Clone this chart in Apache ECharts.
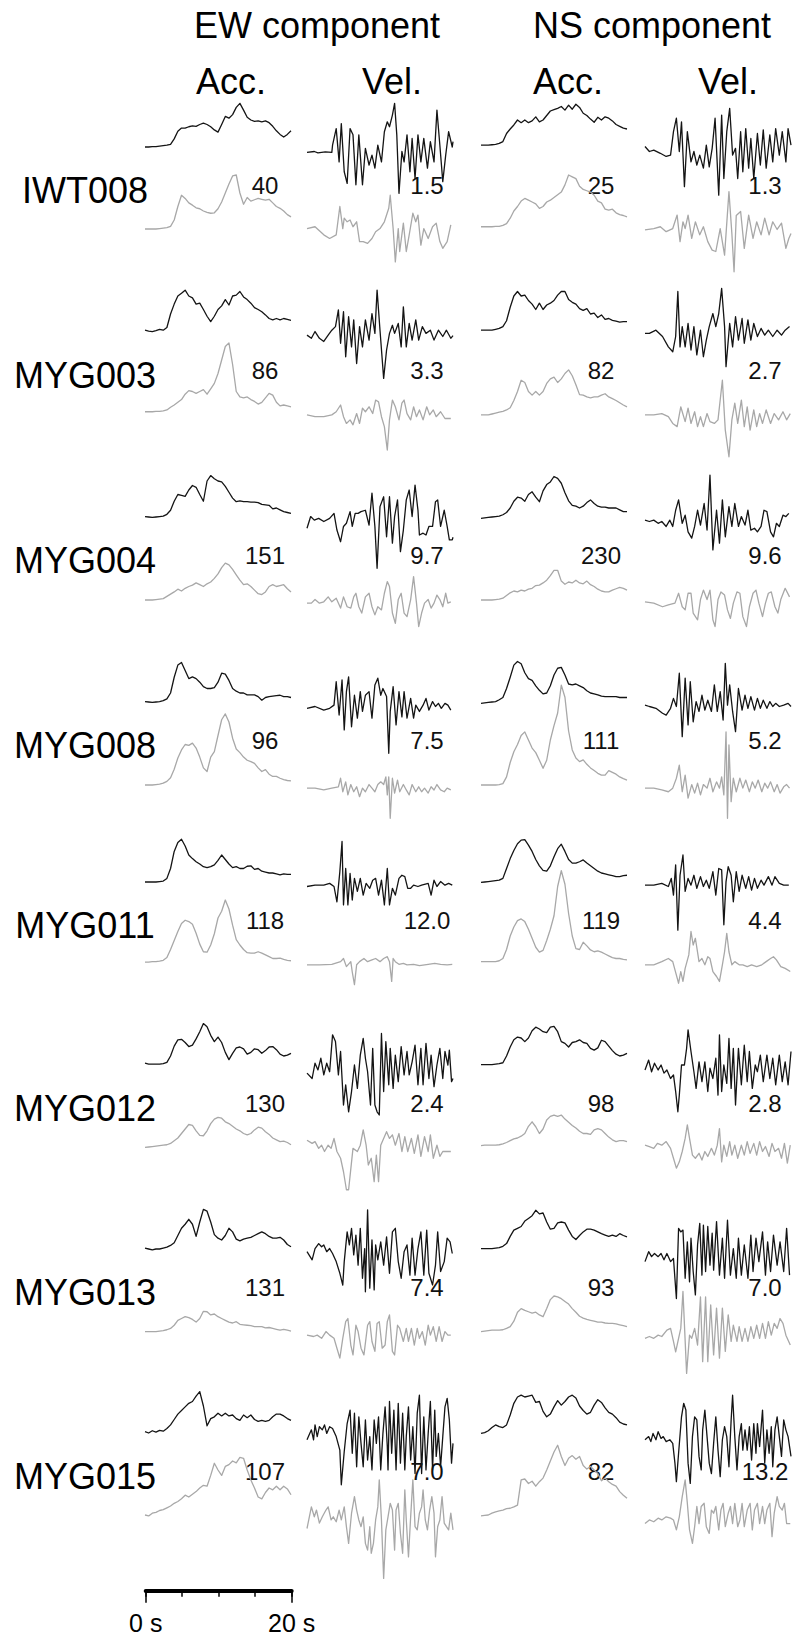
<!DOCTYPE html>
<html>
<head>
<meta charset="utf-8">
<script src="https://cdn.jsdelivr.net/npm/echarts@6.0.0/dist/echarts.min.js"></script>
<style>
  html, body { margin: 0; padding: 0; background: #ffffff; }
  #chart { width: 795px; height: 1638px; }
</style>
</head>
<body>
<div id="chart"></div>
<script>
// ---------------------------------------------------------------------------
// Observed (black) and synthetic (grey) waveforms, 8 stations x 4 panels.
// Acceleration envelopes are sampled every 0.5 s (0..20 s).
// Velocity traces are [time (s), amplitude] pairs.
// Amplitudes are in percent of a common reference scale per panel.
// ---------------------------------------------------------------------------
const stations = ['IWT008', 'MYG003', 'MYG004', 'MYG008', 'MYG011', 'MYG012', 'MYG013', 'MYG015'];
const componentTitles = ['EW component', 'NS component'];
const columnTitles = ['Acc.', 'Vel.', 'Acc.', 'Vel.'];
const columnKeys = ['accEW', 'velEW', 'accNS', 'velNS'];
// peak observed amplitude of each panel (Acc. cm/s^2, Vel. cm/s)
const peakValues = [
  [40, 1.5, 25, 1.3],
  [86, 3.3, 82, 2.7],
  [151, 9.7, 230, 9.6],
  [96, 7.5, 111, 5.2],
  [118, 12.0, 119, 4.4],
  [130, 2.4, 98, 2.8],
  [131, 7.4, 93, 7.0],
  [107, 7.0, 82, 13.2]
];
const scaleBarTicks = [0, 20];
const ACC_STEP = 0.5;

// ---- IWT008 ----
const IWT008_accEW_obs = [0,0,1,1,2,3,4,6,18,35,42,42,45,47,46,50,53,50,45,38,33,50,68,64,72,88,97,82,66,60,57,58,56,58,54,46,36,28,22,28,36];
const IWT008_accEW_syn = [0,0,0,0,1,2,3,6,20,50,75,68,58,53,47,45,40,37,35,36,45,60,80,100,118,120,80,55,70,62,65,68,66,64,66,58,50,46,40,32,27];
const IWT008_velEW_obs = [[0,-12],[1,-10],[1.5,-13],[2.5,-11],[3.4,-12],[3.5,4],[4.0,41],[4.4,-33],[4.7,52],[5.1,-55],[5.5,-81],[5.9,41],[6.3,27],[6.7,-84],[7.1,27],[7.6,-84],[8.0,-3],[8.5,-40],[8.9,-18],[9.3,-47],[9.7,4],[10.2,-33],[10.6,34],[11.0,56],[11.3,45],[11.7,71],[12.0,97],[12.3,27],[12.6,-103],[13.0,-10],[13.3,-33],[13.7,27],[14.1,-55],[14.4,19],[14.8,-70],[15.2,27],[15.6,-33],[16.0,19],[16.5,-47],[16.9,12],[17.4,-33],[17.8,82],[18.2,4],[18.6,-77],[19.0,-18],[19.4,34],[19.9,0],[20,12]];
const IWT008_velEW_syn = [[0,1],[1.1,5],[2.3,-13],[3.1,-21],[4.0,-13],[4.5,50],[4.9,1],[5.1,24],[5.5,16],[5.9,20],[6.3,5],[6.8,16],[7.2,-28],[7.7,-28],[8.3,-32],[8.9,-21],[9.4,-6],[10.0,1],[10.6,16],[11.2,46],[11.4,75],[11.8,1],[12.1,-73],[12.5,1],[12.7,-50],[13.2,13],[13.6,-50],[14.0,-13],[14.5,35],[14.9,16],[15.2,31],[15.6,-36],[16.0,1],[16.6,-21],[17.2,5],[17.7,13],[18.2,-28],[18.6,-43],[19.2,-28],[19.7,9]];
const IWT008_accNS_obs = [4,4,4,5,6,8,12,30,40,49,60,54,60,54,58,67,56,60,70,80,83,86,90,82,93,84,95,88,75,70,62,55,66,60,67,64,58,50,46,42,40];
const IWT008_accNS_syn = [5,5,5,5,6,6,8,12,24,40,50,62,68,64,60,56,46,50,60,64,70,76,82,98,120,116,112,95,88,85,82,75,62,58,44,42,44,36,32,30,27];
const IWT008_velNS_obs = [[0,1],[0.6,-10],[1.2,-7],[2.1,-14],[2.9,-21],[3.5,-18],[3.9,34],[4.3,64],[4.7,-10],[5.0,56],[5.4,-88],[5.8,34],[6.3,-33],[6.7,-10],[7.1,-40],[7.5,-18],[8.0,-47],[8.4,4],[8.8,-44],[9.2,-3],[9.6,64],[10.1,-107],[10.5,71],[10.8,-70],[11.2,34],[11.6,86],[12.0,-18],[12.4,-3],[12.7,-70],[13.1,34],[13.4,-55],[13.8,41],[14.2,-47],[14.5,19],[14.9,-70],[15.4,30],[15.8,-40],[16.2,38],[16.6,-47],[17.1,27],[17.5,-33],[17.9,41],[18.4,-18],[18.8,34],[19.3,-33],[19.6,41],[20.0,4]];
const IWT008_velNS_syn = [[0,-2],[1.2,1],[2.1,5],[2.9,-6],[3.8,1],[4.4,31],[4.8,-28],[5.2,16],[5.5,1],[5.9,31],[6.4,-21],[6.9,16],[7.5,-13],[8.0,5],[8.6,-28],[9.2,-47],[9.7,-50],[10.3,1],[10.9,-58],[11.5,83],[11.9,-10],[12.2,-95],[12.5,30],[13.1,39],[13.6,-43],[14.2,31],[14.8,-21],[15.3,16],[15.9,-13],[16.4,24],[17.0,-13],[17.5,16],[18.1,-1],[18.7,13],[19.3,-43],[19.7,-21],[20,-10]];

// ---- MYG003 ----
const MYG003_accEW_obs = [4,2,1,3,6,4,10,40,62,80,86,93,80,76,62,64,50,35,23,35,50,58,72,60,80,82,90,78,72,64,54,50,45,38,30,27,30,27,30,28,26];
const MYG003_accEW_syn = [5,5,5,6,6,7,9,15,20,26,32,44,52,50,46,50,54,44,56,68,90,120,150,158,110,50,38,36,38,32,28,22,26,36,46,42,26,18,20,18,16];
const MYG003_velEW_obs = [[0,-7],[0.6,-14],[1.1,1],[1.7,-14],[2.3,-21],[2.9,-7],[3.4,4],[3.9,12],[4.3,49],[4.6,-25],[5.0,45],[5.3,-55],[5.7,34],[6.1,-33],[6.4,27],[6.8,-70],[7.2,12],[7.6,-33],[8.0,27],[8.5,-18],[8.9,41],[9.3,-3],[9.6,93],[10.0,4],[10.5,-103],[10.9,-40],[11.3,-3],[11.7,15],[12.0,-3],[12.5,19],[12.9,-33],[13.2,56],[13.6,-33],[14.0,19],[14.4,-18],[14.9,27],[15.3,-18],[15.8,12],[16.3,-3],[16.9,4],[17.4,-18],[18.0,4],[18.6,-10],[19.1,4],[19.7,-14],[20,-8]];
const MYG003_velEW_syn = [[0,-2],[1.1,-6],[2.3,-6],[3.4,-2],[4.0,5],[4.6,20],[5.0,-6],[5.4,-21],[5.9,-13],[6.3,-24],[6.8,1],[7.2,-21],[7.6,13],[8.0,5],[8.5,16],[9.0,1],[9.4,31],[9.8,27],[10.2,-6],[10.6,-28],[11.0,-80],[11.3,-13],[11.7,31],[12.1,16],[12.6,-13],[13.0,24],[13.3,31],[13.7,1],[14.2,-13],[14.6,16],[15.0,-6],[15.4,9],[15.9,-13],[16.4,16],[16.8,-2],[17.3,9],[17.7,-6],[18.3,5],[18.9,-10],[19.7,-10]];
const MYG003_accNS_obs = [4,4,4,4,6,8,12,25,55,80,90,80,82,70,62,50,64,50,60,64,70,82,90,90,72,66,62,52,48,52,40,42,32,38,28,30,26,24,22,23,23];
const MYG003_accNS_syn = [-2,-2,-2,0,2,4,6,9,14,30,50,75,70,50,42,50,42,50,68,78,82,70,78,90,98,85,65,43,42,38,36,38,38,42,45,38,34,30,25,20,16];
const MYG003_velNS_obs = [[0,-3],[0.6,-3],[1.5,4],[2.4,-10],[3.2,-33],[3.8,-44],[4.2,-10],[4.5,90],[4.8,-33],[5.1,12],[5.5,-33],[5.9,19],[6.3,-40],[6.7,12],[7.1,-51],[7.6,4],[8.0,-55],[8.4,-18],[8.8,12],[9.3,41],[9.7,12],[10.1,41],[10.5,97],[10.9,12],[11.1,-77],[11.6,19],[12.0,-33],[12.4,34],[12.8,-18],[13.3,30],[13.6,-25],[14.1,27],[14.5,-18],[14.9,19],[15.4,-10],[15.9,8],[16.4,-7],[16.9,4],[17.5,-10],[18.1,4],[18.7,-7],[19.2,4],[19.8,12]];
const MYG003_velNS_syn = [[0,-2],[1.2,-2],[2.3,1],[3.2,-6],[3.8,-21],[4.4,-28],[4.9,16],[5.5,-17],[5.9,13],[6.3,-21],[6.8,5],[7.2,-28],[7.6,-6],[8.0,-28],[8.5,1],[8.9,-17],[9.5,-21],[10.0,-13],[10.6,75],[11.0,-36],[11.5,-95],[11.9,-13],[12.3,24],[12.7,-21],[13.2,31],[13.6,-28],[14.0,16],[14.4,-36],[14.9,9],[15.3,-28],[15.7,1],[16.1,-21],[16.6,9],[17.2,-21],[17.7,1],[18.3,-13],[18.9,5],[19.4,-13],[19.9,1]];

// ---- MYG004 ----
const MYG004_accEW_obs = [1,0,-1,0,1,2,6,15,35,50,48,46,60,70,66,50,35,80,92,85,80,78,68,55,42,34,36,34,34,33,33,32,28,27,26,18,20,16,12,10,8];
const MYG004_accEW_syn = [0,0,0,1,2,3,8,13,18,24,20,26,30,33,38,34,30,36,40,48,58,72,82,78,68,56,44,34,36,30,22,14,12,18,30,34,30,32,34,25,18];
const MYG004_velEW_obs = [[0,-25],[0.5,1],[1.0,-7],[1.6,-3],[2.3,-10],[3.1,-3],[3.7,8],[4.1,-29],[4.6,-55],[5.0,-21],[5.4,-14],[5.9,12],[6.2,-21],[6.6,8],[7.0,8],[7.4,12],[8.0,15],[8.5,-18],[8.9,53],[9.3,-21],[9.6,-114],[10.0,23],[10.5,45],[10.9,-44],[11.3,45],[11.7,-58],[12.0,1],[12.4,38],[12.8,-77],[13.2,-29],[13.6,38],[14.0,60],[14.4,1],[14.8,71],[15.2,15],[15.4,-40],[15.9,-36],[16.3,-40],[16.7,-21],[17.2,-21],[17.6,34],[17.9,38],[18.3,-21],[18.8,15],[19.2,-21],[19.5,-51],[19.9,-51],[20,-45]];
const MYG004_velEW_syn = [[0,-7],[0.6,-7],[1.1,1],[1.7,-7],[2.3,-4],[2.9,7],[3.4,-4],[4.0,4],[4.6,-18],[5.0,7],[5.5,-15],[6.0,-18],[6.4,7],[6.7,15],[7.1,-15],[7.5,-29],[8.0,7],[8.5,15],[8.9,-15],[9.3,-33],[9.7,-15],[10.2,-22],[10.6,15],[11.0,41],[11.3,30],[11.7,-29],[12.1,-52],[12.5,1],[12.9,15],[13.3,-29],[13.7,-37],[14.2,1],[14.6,52],[15.0,-7],[15.3,-59],[15.7,-29],[16.1,-7],[16.6,1],[17.0,-18],[17.4,-7],[17.8,11],[18.2,1],[18.6,-15],[19.0,15],[19.3,-7],[19.7,-4]];
const MYG004_accNS_obs = [-3,-2,-1,0,1,2,5,10,20,35,44,42,35,50,56,44,34,58,72,78,90,86,75,54,36,26,24,20,24,32,38,30,24,22,22,20,20,20,16,12,12];
const MYG004_accNS_syn = [0,0,0,0,1,2,4,10,16,20,18,22,20,24,26,32,33,38,44,54,66,66,42,35,40,38,44,38,36,42,34,30,24,20,18,18,22,25,28,26,22];
const MYG004_velNS_obs = [[0,-7],[0.6,-10],[1.2,-7],[1.8,-14],[2.3,-10],[2.9,-21],[3.4,-7],[3.8,-21],[4.2,15],[4.6,38],[5.1,-14],[5.5,4],[5.9,-33],[6.4,-47],[6.8,-21],[7.2,15],[7.6,-18],[8.1,30],[8.5,-29],[8.9,93],[9.3,-73],[9.8,15],[10.2,-58],[10.6,38],[11.0,-44],[11.5,23],[11.9,-21],[12.3,30],[12.8,-21],[13.2,1],[13.7,-18],[14.1,15],[14.5,-29],[15.0,-25],[15.4,-33],[15.9,-21],[16.3,15],[16.7,12],[17.2,-33],[17.6,-44],[18.0,-14],[18.4,-21],[18.9,4],[19.3,1],[19.7,8]];
const MYG004_velNS_syn = [[0,-4],[1.2,-7],[2.4,-15],[3.2,-11],[4.1,-7],[4.6,15],[5.1,-15],[5.5,-22],[5.9,15],[6.3,15],[6.6,-29],[7.2,-44],[7.6,1],[8.0,22],[8.5,1],[8.9,22],[9.3,-44],[9.6,-59],[10.0,1],[10.4,18],[10.9,11],[11.3,-22],[11.7,-41],[12.1,-7],[12.6,18],[13.0,15],[13.4,-37],[13.9,-59],[14.3,-15],[14.8,15],[15.2,22],[15.6,-7],[16.1,-37],[16.5,-7],[16.9,15],[17.3,18],[17.8,-15],[18.2,-29],[18.6,1],[19.2,26],[19.8,7]];

// ---- MYG008 ----
const MYG008_accEW_obs = [1,0,-1,0,1,3,7,20,55,82,88,70,52,56,52,44,34,30,30,32,44,64,62,48,30,24,20,20,16,16,16,12,4,10,12,13,14,15,12,12,10];
const MYG008_accEW_syn = [0,0,0,1,2,4,8,16,35,60,78,90,88,93,82,62,38,30,62,74,110,145,158,140,104,80,72,62,55,52,48,38,30,34,24,19,19,15,12,10,9];
const MYG008_velEW_obs = [[0,-14],[1.1,-10],[2.3,-18],[3.1,-14],[3.7,-7],[4.0,45],[4.4,-29],[4.8,49],[5.1,-62],[5.4,23],[5.7,56],[6.1,-55],[6.5,15],[6.9,-36],[7.3,23],[7.6,-21],[8.0,15],[8.5,23],[8.9,-36],[9.3,38],[9.7,53],[10.1,15],[10.4,30],[10.9,12],[11.2,-114],[11.4,-21],[11.8,34],[12.2,-51],[12.6,23],[13.0,-33],[13.3,23],[13.7,-36],[14.2,8],[14.6,-36],[14.9,-7],[15.4,-21],[15.9,-7],[16.3,8],[16.7,-18],[17.2,1],[17.6,-10],[18.0,-3],[18.4,-14],[18.9,-3],[19.3,-7],[19.7,-18]];
const MYG008_velEW_syn = [[0,-7],[1.1,-7],[2.3,-11],[3.4,-7],[4.3,-4],[4.6,15],[4.9,-15],[5.3,7],[5.6,-22],[6.0,1],[6.4,-15],[6.8,-4],[7.2,-26],[7.6,-7],[8.0,-15],[8.5,1],[8.9,-7],[9.3,-15],[9.7,1],[10.1,7],[10.5,1],[10.8,18],[11.0,-22],[11.2,18],[11.4,-74],[11.7,15],[12.0,-18],[12.4,11],[12.7,-15],[13.2,1],[13.6,-11],[14.0,-22],[14.4,1],[14.9,-15],[15.3,-4],[15.7,-15],[16.1,-7],[16.6,-18],[17.0,-4],[17.4,-11],[17.8,1],[18.3,-11],[18.8,-15],[19.2,-7],[19.7,-11]];
const MYG008_accNS_obs = [-3,-2,-1,0,1,5,10,30,55,82,90,85,65,52,48,36,26,18,20,36,60,75,77,60,40,38,40,36,32,25,20,18,16,13,12,12,12,12,10,10,10];
const MYG008_accNS_syn = [0,0,0,0,0,1,3,18,50,74,90,110,118,100,82,72,55,37,55,100,132,160,222,195,120,78,60,52,56,46,38,32,26,22,22,32,28,24,18,14,11];
const MYG008_velNS_obs = [[0,-7],[0.6,-10],[1.5,-14],[2.4,-25],[2.9,-29],[3.5,-14],[3.9,8],[4.3,-10],[4.7,64],[5.1,-77],[5.5,53],[5.9,-51],[6.2,45],[6.6,-44],[7.0,1],[7.4,-21],[7.8,15],[8.2,-18],[8.6,4],[9.1,-21],[9.5,38],[9.9,-21],[10.3,23],[10.7,-40],[11.0,86],[11.3,-7],[11.6,38],[12.0,-21],[12.4,-66],[12.8,30],[13.3,-18],[13.7,15],[14.1,-14],[14.5,12],[15.0,-18],[15.4,8],[15.8,-14],[16.2,4],[16.7,-14],[17.1,1],[17.5,-10],[17.9,-3],[18.4,-10],[19.0,-7],[19.6,-3],[20,-10]];
const MYG008_velNS_syn = [[0,-7],[1.2,-7],[2.3,-11],[3.2,-15],[3.8,-7],[4.3,15],[4.7,44],[5.1,-15],[5.5,22],[5.9,-29],[6.4,1],[6.8,-18],[7.2,4],[7.6,-22],[8.0,1],[8.5,-7],[8.9,15],[9.3,-15],[9.8,7],[10.2,-7],[10.5,18],[10.8,-22],[11.1,118],[11.3,-74],[11.5,89],[11.8,-37],[12.1,15],[12.5,-15],[13.0,15],[13.4,-7],[13.8,11],[14.3,-15],[14.7,7],[15.1,-7],[15.5,11],[16.0,-15],[16.4,4],[16.8,-7],[17.2,7],[17.7,-15],[18.1,1],[18.5,-18],[19.0,-4],[19.4,1],[19.8,-7]];

// ---- MYG011 ----
const MYG011_accEW_obs = [0,0,0,0,1,2,8,30,68,88,95,80,60,52,45,40,34,32,34,38,48,60,50,40,32,34,30,30,35,36,28,30,24,22,20,20,18,16,18,17,17];
const MYG011_accEW_syn = [2,2,3,3,4,6,12,30,50,70,88,95,92,86,66,42,25,24,40,65,100,115,140,120,84,52,40,30,23,22,22,25,22,18,14,10,10,11,8,6,5];
const MYG011_velEW_obs = [[0,-10],[1.1,-7],[2.3,-7],[3.1,-3],[3.7,-10],[4.1,-44],[4.5,23],[4.8,90],[5.0,-51],[5.3,30],[5.6,-51],[5.9,19],[6.2,-40],[6.5,8],[6.9,-21],[7.3,8],[7.7,-29],[8.1,-3],[8.6,-14],[9.0,4],[9.4,8],[9.8,-29],[10.2,4],[10.6,-51],[11.0,30],[11.3,-51],[11.7,-14],[12.1,-29],[12.6,8],[13.0,15],[13.4,12],[13.8,-14],[14.2,-14],[14.6,-7],[15.2,-10],[15.7,-7],[16.6,-3],[17.0,-29],[17.4,4],[17.8,-10],[18.3,1],[18.9,-7],[19.4,-3],[19.9,-7]];
const MYG011_velEW_syn = [[0,-4],[1.7,-4],[3.4,-3],[4.6,3],[5.0,10],[5.4,-8],[6.0,3],[6.2,-20],[6.5,-48],[6.8,-4],[7.2,3],[7.8,10],[8.3,3],[8.9,7],[9.4,10],[10.0,3],[10.5,10],[11.0,14],[11.3,3],[11.6,-41],[11.8,10],[12.1,3],[12.6,-3],[13.2,-1],[13.7,-4],[14.6,-3],[15.4,-6],[16.6,-3],[17.5,-1],[18.3,-3],[19.2,-4],[19.9,-3]];
const MYG011_accNS_obs = [-1,0,1,2,3,4,8,30,52,70,85,93,94,82,68,50,36,26,24,36,56,74,84,68,50,42,42,45,49,42,36,30,24,20,18,16,14,12,12,14,15];
const MYG011_accNS_syn = [3,3,3,3,3,5,10,30,60,80,94,98,92,75,55,35,24,28,50,75,105,170,205,175,110,60,32,30,46,38,29,25,27,24,20,16,12,10,10,8,7];
const MYG011_velNS_obs = [[0,-7],[1.2,-7],[2.3,-3],[3.2,-10],[3.6,8],[3.9,-29],[4.2,38],[4.5,-107],[4.8,15],[5.2,60],[5.5,-21],[5.9,8],[6.3,-7],[6.7,15],[7.1,-14],[7.6,12],[8.0,-10],[8.4,4],[8.8,-14],[9.3,23],[9.7,-29],[10.1,30],[10.5,27],[10.8,-95],[11.1,1],[11.4,34],[11.8,15],[12.1,-44],[12.5,23],[12.9,-21],[13.3,15],[13.8,-14],[14.2,12],[14.6,-18],[15.0,8],[15.4,-14],[15.9,4],[16.3,-7],[16.9,12],[17.4,-7],[17.8,12],[18.4,-3],[19.0,-7],[19.7,-7]];
const MYG011_velNS_syn = [[0,-4],[1.2,-4],[2.3,3],[3.2,10],[3.8,3],[4.3,-27],[4.6,-45],[4.9,-19],[5.2,-41],[5.5,-12],[6.0,18],[6.3,70],[6.6,40],[6.9,55],[7.4,3],[7.8,10],[8.2,-4],[8.6,14],[8.9,10],[9.3,-19],[9.8,-30],[10.2,-41],[10.6,-4],[10.9,25],[11.2,66],[11.5,25],[11.9,-4],[12.3,3],[12.9,-4],[13.4,-4],[14.0,-8],[14.6,-4],[15.3,-8],[16.0,-4],[16.6,3],[17.2,10],[17.6,14],[18.0,7],[18.6,-8],[19.2,-12],[19.9,-19]];

// ---- MYG012 ----
const MYG012_accEW_obs = [4,2,2,2,2,3,6,20,42,56,57,50,41,44,58,74,92,85,66,52,62,50,28,12,26,38,40,36,24,28,36,34,26,32,40,41,34,24,20,22,26];
const MYG012_accEW_syn = [-1,0,1,2,3,4,5,8,14,20,30,40,50,48,36,26,25,36,52,62,66,64,56,52,46,40,36,30,27,30,38,44,42,34,28,20,16,12,13,10,5];
const MYG012_velEW_obs = [[0,-18],[0.7,-30],[1.1,4],[1.5,-11],[1.9,15],[2.3,-22],[2.7,4],[3.1,-15],[3.5,67],[3.9,52],[4.3,-22],[4.6,30],[5.0,-89],[5.3,-44],[5.7,-104],[6.1,-59],[6.5,0],[6.9,-52],[7.3,22],[7.7,59],[8.0,15],[8.3,-15],[8.7,-89],[9.0,37],[9.3,-89],[9.6,-104],[9.9,-111],[10.2,70],[10.5,-59],[10.8,52],[11.2,-44],[11.4,37],[11.8,-52],[12.1,22],[12.5,-37],[12.9,41],[13.3,-22],[13.7,30],[14.0,-22],[14.4,7],[14.8,44],[15.2,-44],[15.6,37],[15.9,-44],[16.3,48],[16.7,-30],[17.0,22],[17.4,-48],[17.8,0],[18.2,37],[18.6,-30],[18.9,30],[19.3,0],[19.5,33],[19.8,-37],[20,-30]];
const MYG012_velEW_syn = [[0,15],[0.7,8],[1.1,12],[1.6,-3],[2.0,4],[2.4,-10],[2.9,4],[3.3,-3],[3.7,19],[4.1,-10],[4.6,-25],[5.0,-55],[5.4,-95],[5.7,-95],[6.3,-3],[6.9,-10],[7.3,4],[7.7,38],[8.1,4],[8.4,-40],[8.8,-25],[9.2,-77],[9.5,-18],[9.8,-77],[10.1,4],[10.5,19],[10.9,34],[11.3,19],[11.7,27],[12.1,4],[12.6,30],[13.0,-10],[13.4,23],[13.8,-10],[14.3,19],[14.7,-14],[15.2,27],[15.6,-21],[16.1,23],[16.6,-10],[16.9,27],[17.3,-25],[17.8,4],[18.2,-21],[18.6,-10],[19.2,-10],[19.7,-10]];
const MYG012_accNS_obs = [1,1,1,1,2,3,5,20,40,56,62,60,52,60,76,84,80,74,72,84,86,74,52,48,40,50,52,56,50,48,37,33,38,55,52,42,32,24,20,22,26];
const MYG012_accNS_syn = [3,4,4,4,4,5,7,10,14,18,20,24,30,46,56,45,30,40,60,68,71,68,71,62,55,48,42,35,30,30,28,38,41,38,30,22,16,12,14,14,12];
const MYG012_velNS_obs = [[0,-11],[0.5,11],[0.9,-15],[1.3,4],[1.8,-11],[2.2,0],[2.6,-18],[3.0,-11],[3.5,-30],[3.9,-22],[4.2,-59],[4.5,-104],[4.7,-67],[5.0,0],[5.4,0],[5.7,37],[5.9,78],[6.3,30],[6.7,-15],[7.0,-52],[7.4,7],[7.8,-37],[8.2,7],[8.6,-59],[8.9,-7],[9.3,-30],[9.7,15],[10.0,-67],[10.2,67],[10.5,-59],[10.8,0],[11.2,-41],[11.5,59],[11.8,-52],[12.1,37],[12.4,-89],[12.8,37],[13.2,-44],[13.6,44],[14.0,-37],[14.3,30],[14.7,-52],[15.1,0],[15.4,-15],[15.8,22],[16.2,-37],[16.7,22],[17.1,-30],[17.5,15],[17.9,-44],[18.4,22],[18.8,-37],[19.2,7],[19.6,-44],[20.0,30]];
const MYG012_velNS_syn = [[0,4],[0.6,1],[1.2,-3],[1.7,8],[2.3,4],[2.9,12],[3.5,-3],[3.9,-25],[4.3,-47],[4.7,-33],[5.1,-10],[5.5,19],[5.8,49],[6.1,19],[6.5,-18],[6.9,-25],[7.4,-14],[7.8,-29],[8.2,-10],[8.6,-21],[9.1,-3],[9.5,-18],[9.9,4],[10.2,41],[10.5,-33],[10.8,4],[11.2,-21],[11.6,12],[11.9,-18],[12.3,4],[12.7,-25],[13.2,4],[13.6,-18],[14.0,12],[14.4,-14],[14.9,8],[15.3,-18],[15.7,12],[16.1,-10],[16.5,1],[17.0,-21],[17.4,8],[17.8,-10],[18.3,-3],[18.7,-25],[19.1,8],[19.5,-36],[19.9,4]];

// ---- MYG013 ----
const MYG013_accEW_obs = [2,0,-2,0,0,2,4,8,14,30,46,55,66,55,28,60,88,84,60,32,24,20,30,46,38,22,18,22,24,26,30,34,38,34,28,24,24,26,20,10,5];
const MYG013_accEW_syn = [1,1,1,1,2,3,5,8,15,26,30,34,32,28,22,30,46,45,38,40,34,30,26,22,20,23,17,16,15,14,12,12,12,9,10,8,6,4,6,4,2];
const MYG013_velEW_obs = [[0,-6],[0.7,-24],[1.1,1],[1.6,12],[2.0,5],[2.3,9],[2.7,-6],[3.1,1],[3.5,-10],[4.0,-28],[4.5,-54],[4.9,-80],[5.1,-28],[5.5,38],[5.8,9],[6.1,46],[6.4,-13],[6.7,31],[7.0,-36],[7.3,46],[7.6,-65],[7.9,1],[8.0,-95],[8.3,87],[8.6,-87],[8.9,20],[9.2,-91],[9.4,9],[9.7,-24],[10.1,16],[10.5,-36],[10.9,27],[11.3,-54],[11.7,38],[12.1,46],[12.5,-28],[12.9,-65],[13.3,-6],[13.7,9],[14.1,-58],[14.4,24],[14.8,-58],[15.2,1],[15.6,38],[16.0,-58],[16.4,42],[16.7,-54],[17.2,-80],[17.6,-36],[17.9,38],[18.3,-50],[18.8,-28],[19.2,24],[19.6,16],[19.9,-10]];
const MYG013_velEW_syn = [[0,-7],[0.9,-10],[1.4,-7],[2.0,-14],[2.6,1],[3.1,-7],[3.7,-14],[4.1,-36],[4.5,-58],[4.9,-14],[5.3,23],[5.6,30],[6.0,-29],[6.3,-51],[6.7,15],[7.0,1],[7.4,-36],[7.8,-51],[8.3,15],[8.6,23],[8.9,-21],[9.3,-43],[9.6,19],[9.9,23],[10.3,-36],[10.7,-29],[11.0,23],[11.3,38],[11.7,-43],[12.0,-51],[12.4,15],[12.7,8],[13.2,-21],[13.6,8],[13.9,-21],[14.3,8],[14.7,-29],[15.1,8],[15.4,-14],[15.8,1],[16.2,-29],[16.6,15],[16.9,-7],[17.3,12],[17.7,-21],[18.1,12],[18.5,-21],[18.9,1],[19.3,-7],[19.7,-7]];
const MYG013_accNS_obs = [1,1,1,1,2,3,6,12,28,42,46,50,62,68,74,86,78,80,60,44,46,58,60,58,42,28,21,30,38,44,44,42,38,34,31,28,31,28,34,30,27];
const MYG013_accNS_syn = [1,2,3,4,4,4,5,8,12,24,44,52,48,45,42,44,38,34,52,72,80,78,74,68,62,52,44,35,31,28,26,24,22,22,20,19,19,18,16,14,12];
const MYG013_velNS_obs = [[0,-28],[0.5,-6],[0.9,-17],[1.3,-10],[1.8,-17],[2.2,-10],[2.6,-24],[3.0,-10],[3.5,-28],[3.9,-21],[4.3,-110],[4.6,46],[4.9,38],[5.2,42],[5.5,-65],[5.8,16],[6.1,-73],[6.3,24],[6.6,-50],[6.9,-102],[7.2,9],[7.5,57],[7.8,-58],[8.0,53],[8.3,-50],[8.6,50],[8.9,-36],[9.2,35],[9.4,-47],[9.8,61],[10.2,-58],[10.6,24],[10.9,-65],[11.3,64],[11.7,-58],[12.1,1],[12.5,-65],[12.8,24],[13.2,-58],[13.6,9],[14.1,-65],[14.5,31],[14.8,-50],[15.2,24],[15.6,-28],[16.1,38],[16.5,-58],[16.8,16],[17.2,-50],[17.6,31],[18.1,-36],[18.5,16],[19.0,-50],[19.4,46],[19.8,-58]];
const MYG013_velNS_syn = [[0,-14],[0.6,-10],[1.2,-14],[1.8,-7],[2.3,-10],[3.0,4],[3.5,8],[3.9,-21],[4.2,-44],[4.6,-14],[4.9,8],[5.2,90],[5.7,-92],[6.1,-7],[6.4,-14],[6.8,8],[7.2,-29],[7.6,78],[7.9,-66],[8.3,78],[8.6,-66],[9.0,60],[9.4,-51],[9.8,53],[10.2,-58],[10.6,53],[11.0,-43],[11.4,38],[11.8,-21],[12.1,15],[12.6,-21],[12.9,12],[13.3,-21],[13.7,8],[14.1,-21],[14.5,12],[14.9,-14],[15.3,15],[15.7,-14],[16.1,19],[16.5,-14],[16.9,23],[17.3,-7],[17.7,19],[18.1,8],[18.5,30],[18.9,19],[19.3,-7],[19.9,-29]];

// ---- MYG015 ----
const MYG015_accEW_obs = [3,0,5,2,6,4,10,18,30,42,50,58,66,70,82,92,60,16,32,36,44,38,44,38,40,32,28,40,34,40,30,26,28,26,28,36,42,42,38,32,28];
const MYG015_accEW_syn = [0,-2,4,6,10,12,16,20,26,30,36,44,40,46,52,60,66,64,88,115,100,88,108,112,120,116,128,126,100,78,60,40,36,50,60,56,64,56,64,58,45];
const MYG015_velEW_obs = [[0,-15],[0.6,7],[0.9,-15],[1.1,18],[1.4,-8],[1.7,14],[2.1,7],[2.4,18],[2.7,-1],[3.1,14],[3.5,10],[4.0,-8],[4.5,-38],[4.7,-115],[5.1,-41],[5.5,21],[5.9,51],[6.2,-45],[6.5,44],[6.8,-75],[7.1,36],[7.4,-23],[7.7,-75],[8.0,29],[8.3,-60],[8.6,-8],[8.9,-82],[9.2,29],[9.5,-23],[9.8,36],[10.1,-82],[10.4,-1],[10.7,58],[11.0,-30],[11.1,-82],[11.3,70],[11.6,-45],[11.9,51],[12.2,-82],[12.5,66],[12.8,-67],[13.1,44],[13.4,-82],[13.6,-8],[13.9,58],[14.2,-60],[14.5,14],[14.8,-90],[15.1,44],[15.4,84],[15.7,-90],[16.0,36],[16.3,-82],[16.6,-1],[16.9,70],[17.2,-82],[17.5,51],[17.7,-52],[18.0,-1],[18.3,-75],[18.6,-8],[18.9,58],[19.2,77],[19.5,29],[19.8,-67],[20.0,-23]];
const MYG015_velEW_syn = [[0,-30],[0.6,18],[1.0,-4],[1.3,11],[1.7,-18],[2.1,-4],[2.6,11],[2.9,18],[3.3,-11],[3.6,-4],[4.0,-15],[4.4,11],[4.7,-11],[5.1,18],[5.4,-26],[5.7,-63],[6.1,4],[6.5,41],[6.8,11],[7.1,-11],[7.4,-26],[7.7,-4],[8.0,-63],[8.3,-78],[8.6,-26],[8.8,-85],[9.1,-63],[9.4,-11],[9.7,18],[9.9,78],[10.2,-11],[10.5,-141],[10.8,-33],[11.1,-4],[11.4,26],[11.7,11],[12.0,-78],[12.2,11],[12.5,26],[12.8,-41],[13.1,-85],[13.4,56],[13.6,-11],[13.9,-93],[14.2,-4],[14.5,78],[14.8,-26],[15.1,-33],[15.4,4],[15.7,18],[15.9,56],[16.2,-11],[16.5,-33],[16.8,11],[17.1,41],[17.4,4],[17.6,-93],[17.9,-26],[18.2,-11],[18.5,41],[18.8,-18],[19.1,-26],[19.4,-33],[19.7,4],[20.0,-33]];
const MYG015_accNS_obs = [-1,1,5,12,18,14,12,18,40,66,80,84,80,82,84,68,70,48,36,42,58,72,62,70,80,84,78,60,50,42,46,62,74,68,56,46,42,34,24,20,18];
const MYG015_accNS_syn = [-2,-1,0,4,7,9,11,14,15,18,22,78,80,70,75,64,74,82,100,120,140,155,130,110,126,132,124,130,110,102,108,100,92,76,82,74,68,64,52,44,37];
const MYG015_velNS_obs = [[0,-15],[0.5,-8],[0.8,-19],[1.1,-1],[1.5,-15],[1.8,3],[2.2,-12],[2.5,-8],[2.9,-19],[3.4,-15],[3.8,-23],[4.1,-67],[4.3,-108],[4.6,-45],[5.0,36],[5.3,66],[5.6,51],[5.9,-67],[6.2,-112],[6.5,-8],[6.8,36],[7.1,29],[7.4,-52],[7.7,-82],[7.9,7],[8.2,51],[8.5,-8],[8.8,-67],[9.1,-90],[9.4,-23],[9.7,36],[10.0,-38],[10.3,-97],[10.6,-15],[10.9,14],[11.2,-8],[11.5,-75],[11.8,29],[12.0,84],[12.3,-8],[12.6,-82],[12.9,-8],[13.2,21],[13.4,-38],[13.7,7],[14.0,-38],[14.3,14],[14.6,-60],[14.9,21],[15.2,-45],[15.4,21],[15.7,-30],[16.1,51],[16.4,-67],[16.7,7],[17.0,-45],[17.3,14],[17.5,-75],[17.8,7],[18.1,36],[18.4,-8],[18.7,-52],[19.0,29],[19.3,7],[19.6,-8],[20.0,-52]];
const MYG015_velNS_syn = [[0,-19],[0.6,-11],[1.2,-15],[1.8,-7],[2.3,-11],[2.9,-4],[3.5,-7],[3.9,-11],[4.3,-33],[4.7,-4],[5.1,41],[5.5,78],[5.8,26],[6.1,-33],[6.5,-63],[6.8,-26],[7.1,19],[7.4,-19],[7.7,19],[8.1,26],[8.4,-26],[8.8,-41],[9.1,11],[9.4,4],[9.7,19],[10.1,-33],[10.4,11],[10.7,26],[11.0,-26],[11.4,4],[11.7,19],[12.0,-19],[12.3,26],[12.7,-26],[13.0,-11],[13.3,26],[13.6,-26],[14.0,11],[14.4,26],[14.7,-33],[15.0,11],[15.4,26],[15.7,-19],[16.1,19],[16.4,-19],[16.7,11],[17.1,26],[17.4,-48],[17.7,4],[18.1,41],[18.4,19],[18.8,11],[19.1,26],[19.4,-19],[19.9,-19]];

// Station -> panel -> [observed, synthetic]
const traces = {
  IWT008: { accEW: [IWT008_accEW_obs, IWT008_accEW_syn], velEW: [IWT008_velEW_obs, IWT008_velEW_syn], accNS: [IWT008_accNS_obs, IWT008_accNS_syn], velNS: [IWT008_velNS_obs, IWT008_velNS_syn] },
  MYG003: { accEW: [MYG003_accEW_obs, MYG003_accEW_syn], velEW: [MYG003_velEW_obs, MYG003_velEW_syn], accNS: [MYG003_accNS_obs, MYG003_accNS_syn], velNS: [MYG003_velNS_obs, MYG003_velNS_syn] },
  MYG004: { accEW: [MYG004_accEW_obs, MYG004_accEW_syn], velEW: [MYG004_velEW_obs, MYG004_velEW_syn], accNS: [MYG004_accNS_obs, MYG004_accNS_syn], velNS: [MYG004_velNS_obs, MYG004_velNS_syn] },
  MYG008: { accEW: [MYG008_accEW_obs, MYG008_accEW_syn], velEW: [MYG008_velEW_obs, MYG008_velEW_syn], accNS: [MYG008_accNS_obs, MYG008_accNS_syn], velNS: [MYG008_velNS_obs, MYG008_velNS_syn] },
  MYG011: { accEW: [MYG011_accEW_obs, MYG011_accEW_syn], velEW: [MYG011_velEW_obs, MYG011_velEW_syn], accNS: [MYG011_accNS_obs, MYG011_accNS_syn], velNS: [MYG011_velNS_obs, MYG011_velNS_syn] },
  MYG012: { accEW: [MYG012_accEW_obs, MYG012_accEW_syn], velEW: [MYG012_velEW_obs, MYG012_velEW_syn], accNS: [MYG012_accNS_obs, MYG012_accNS_syn], velNS: [MYG012_velNS_obs, MYG012_velNS_syn] },
  MYG013: { accEW: [MYG013_accEW_obs, MYG013_accEW_syn], velEW: [MYG013_velEW_obs, MYG013_velEW_syn], accNS: [MYG013_accNS_obs, MYG013_accNS_syn], velNS: [MYG013_velNS_obs, MYG013_velNS_syn] },
  MYG015: { accEW: [MYG015_accEW_obs, MYG015_accEW_syn], velEW: [MYG015_velEW_obs, MYG015_velEW_syn], accNS: [MYG015_accNS_obs, MYG015_accNS_syn], velNS: [MYG015_velNS_obs, MYG015_velNS_syn] }
};

// ---------------------------------------------------------------------------
// Layout (pixels)
// ---------------------------------------------------------------------------
const FONT = '"Liberation Sans", Arial, Helvetica, sans-serif';
const colLeft = [145, 307, 481, 645];
const colWidth = 146;
const obsZeroY = [147, 332, 517, 702, 882, 1065, 1249, 1433];
const synZeroY = [229, 414, 600, 785, 963, 1147, 1332, 1515];
const componentCenters = [317, 652];
const columnTitleCenters = [231, 392, 568, 728];
const PX_PER_UNIT = 0.45;   // pixels per percent of panel scale
const HALF_RANGE = 250;     // percent units shown above/below each zero line
const OBS_COLOR = '#141414';
const SYN_COLOR = '#a8a8a8';

const grids = [];
const xAxes = [];
const yAxes = [];
const series = [];
const texts = [];

function toPairs(key, arr) {
  return key.startsWith('acc') ? arr.map((v, i) => [i * ACC_STEP, v]) : arr;
}

function centeredText(text, x, y, size, color) {
  return {
    type: 'text', x: x, y: y, silent: true,
    style: {
      text: text, font: size + 'px ' + FONT, fill: color,
      align: 'center', verticalAlign: 'middle', textAlign: 'center', textVerticalAlign: 'middle'
    }
  };
}

stations.forEach((st, r) => {
  columnKeys.forEach((key, c) => {
    const peak = peakValues[r][c];
    const obs = toPairs(key, traces[st][key][0]);
    const syn = toPairs(key, traces[st][key][1]);
    const maxObs = Math.max(...obs.map(p => Math.abs(p[1])));
    const unit = peak / maxObs;   // physical value of one percent unit
    [[obs, obsZeroY[r], OBS_COLOR, 3], [syn, synZeroY[r], SYN_COLOR, 2]].forEach(([pairs, zeroY, color, z]) => {
      const idx = grids.length;
      grids.push({
        left: colLeft[c], width: colWidth,
        top: zeroY - HALF_RANGE * PX_PER_UNIT, height: 2 * HALF_RANGE * PX_PER_UNIT
      });
      xAxes.push({ gridIndex: idx, type: 'value', min: 0, max: 20, show: false });
      yAxes.push({ gridIndex: idx, type: 'value', min: -HALF_RANGE * unit, max: HALF_RANGE * unit, show: false });
      series.push({
        type: 'line', xAxisIndex: idx, yAxisIndex: idx,
        data: pairs.map(p => [p[0], p[1] * unit]),
        symbol: 'none', showSymbol: false, silent: true, clip: false, z: z,
        lineStyle: { color: color, width: 1.3, join: 'round' }
      });
    });
    // peak value of the observed trace
    texts.push(centeredText((c % 2 === 1) ? peak.toFixed(1) : String(peak),
      colLeft[c] + 120, obsZeroY[r] + 38, 24, '#111'));
  });
  // station name
  texts.push(centeredText(st, 85, obsZeroY[r] + 43, 36, '#000'));
});

// headers
componentTitles.forEach((t, i) => texts.push(centeredText(t, componentCenters[i], 25, 36, '#000')));
columnTitles.forEach((t, c) => texts.push(centeredText(t, columnTitleCenters[c], 81, 36, '#000')));

// time scale bar (0-20 s) below the panels
const barIdx = grids.length;
grids.push({ left: colLeft[0] + 0.7, width: colWidth, top: 1580, height: 10.7 });
yAxes.push({ gridIndex: barIdx, type: 'value', show: false, min: 0, max: 1 });
xAxes.push({
  gridIndex: barIdx, type: 'value', min: 0, max: 20, interval: 5, position: 'bottom',
  axisLine: { show: true, lineStyle: { color: '#000', width: 4 } },
  axisTick: { show: true, length: 6, lineStyle: { color: '#000', width: 1.5 } },
  axisLabel: { show: false }, splitLine: { show: false }
});
xAxes.push({
  gridIndex: barIdx, type: 'value', min: scaleBarTicks[0], max: scaleBarTicks[1], interval: 20, position: 'bottom',
  axisLine: { show: false },
  axisTick: { show: true, length: 12, lineStyle: { color: '#000', width: 1.5 } },
  axisLabel: { show: true, margin: 20, fontSize: 25, fontFamily: FONT, color: '#000',
    formatter: v => v + ' s' },
  splitLine: { show: false }
});

const chart = echarts.init(document.getElementById('chart'), null, { renderer: 'svg' });
chart.setOption({
  animation: false,
  backgroundColor: '#ffffff',
  grid: grids,
  xAxis: xAxes,
  yAxis: yAxes,
  series: series,
  graphic: { elements: texts }
});
</script>
</body>
</html>
